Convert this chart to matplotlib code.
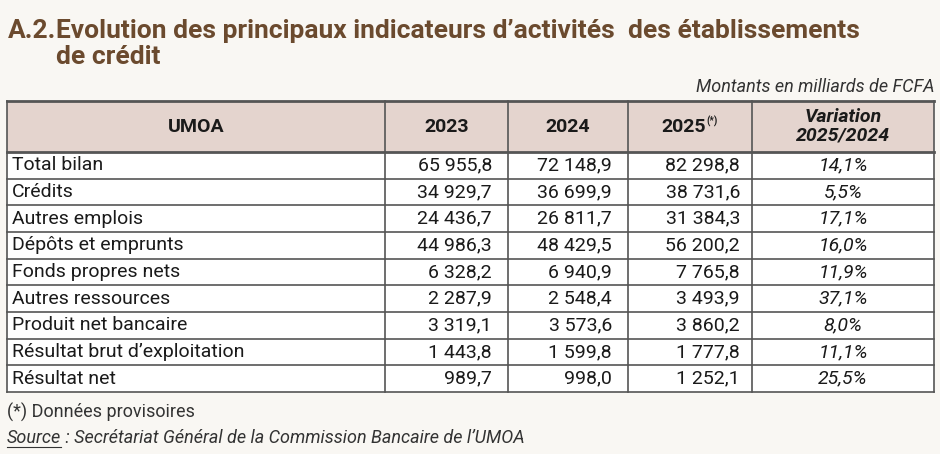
import matplotlib.pyplot as plt

plt.rcParams['font.family'] = ['Roboto', 'DejaVu Sans']

rows = ["Total bilan", "Crédits", "Autres emplois", "Dépôts et emprunts",
        "Fonds propres nets", "Autres ressources", "Produit net bancaire",
        "Résultat brut d\u2019exploitation", "Résultat net"]
v2023 = ["65 955,8", "34 929,7", "24 436,7", "44 986,3", "6 328,2",
         "2 287,9", "3 319,1", "1 443,8", "989,7"]
v2024 = ["72 148,9", "36 699,9", "26 811,7", "48 429,5", "6 940,9",
         "2 548,4", "3 573,6", "1 599,8", "998,0"]
v2025 = ["82 298,8", "38 731,6", "31 384,3", "56 200,2", "7 765,8",
         "3 493,9", "3 860,2", "1 777,8", "1 252,1"]
variation = ["14,1%", "5,5%", "17,1%", "16,0%", "11,9%",
             "37,1%", "8,0%", "11,1%", "25,5%"]

BG = "#f9f7f3"
HEAD = "#e4d4ce"
BROWN = "#6b4a2e"
TXT = "#1a1a1a"

W, H = 940, 454
fig = plt.figure(figsize=(W / 100, H / 100), dpi=100)
fig.patch.set_facecolor(BG)
ax = fig.add_axes([0, 0, 1, 1])
ax.set_xlim(0, W)
ax.set_ylim(H, 0)
ax.axis("off")

# title
TS = 19
ax.text(8, 31, "A.2.", fontsize=TS, fontweight="bold", color=BROWN, va="center")
ax.text(56, 31, "Evolution des principaux indicateurs d\u2019activités  des établissements",
        fontsize=TS, fontweight="bold", color=BROWN, va="center")
ax.text(56, 57, "de crédit", fontsize=TS, fontweight="bold", color=BROWN, va="center")
ax.text(934, 87, "Montants en milliards de FCFA", fontsize=13, style="italic",
        color="#333333", ha="right", va="center")

cols = [7, 385, 508, 628, 752, 934]
top, head_bot = 101, 152
row_h = (392 - head_bot) / len(rows)
bottom = head_bot + row_h * len(rows)

ax.add_patch(plt.Rectangle((cols[0], top), cols[-1] - cols[0], head_bot - top,
                           facecolor=HEAD, edgecolor="none"))
ax.add_patch(plt.Rectangle((cols[0], head_bot), cols[-1] - cols[0], bottom - head_bot,
                           facecolor="white", edgecolor="none"))

lc = "#555555"
for x in cols:
    ax.plot([x, x], [top, bottom], color=lc, lw=1.2)
ax.plot([cols[0], cols[-1]], [top, top], color=lc, lw=2)
ax.plot([cols[0], cols[-1]], [head_bot, head_bot], color=lc, lw=2)
for i in range(1, len(rows) + 1):
    y = head_bot + i * row_h
    ax.plot([cols[0], cols[-1]], [y, y], color=lc, lw=1.2)

HS = 14
BS = 14
hy = (top + head_bot) / 2
ax.text((cols[0] + cols[1]) / 2, hy, "UMOA", fontsize=HS, fontweight="bold",
        ha="center", va="center", color=TXT)
ax.text((cols[1] + cols[2]) / 2, hy, "2023", fontsize=HS, fontweight="bold",
        ha="center", va="center", color=TXT)
ax.text((cols[2] + cols[3]) / 2, hy, "2024", fontsize=HS, fontweight="bold",
        ha="center", va="center", color=TXT)
ax.text((cols[3] + cols[4]) / 2 - 6, hy, "2025", fontsize=HS, fontweight="bold",
        ha="center", va="center", color=TXT)
ax.text((cols[3] + cols[4]) / 2 + 16, hy - 5, "(*)", fontsize=7, fontweight="bold",
        ha="left", va="center", color=TXT)
ax.text((cols[4] + cols[5]) / 2, hy, "Variation\n2025/2024", fontsize=HS,
        fontweight="bold", style="italic", ha="center", va="center",
        color=TXT, linespacing=1.05)

for i, name in enumerate(rows):
    y = head_bot + (i + 0.5) * row_h
    ax.text(cols[0] + 5, y, name, fontsize=BS, va="center", color=TXT)
    ax.text(cols[2] - 16, y, v2023[i], fontsize=BS, va="center", ha="right", color=TXT)
    ax.text(cols[3] - 16, y, v2024[i], fontsize=BS, va="center", ha="right", color=TXT)
    ax.text(cols[4] - 12, y, v2025[i], fontsize=BS, va="center", ha="right", color=TXT)
    ax.text((cols[4] + cols[5]) / 2, y, variation[i], fontsize=BS, style="italic",
            va="center", ha="center", color=TXT)

FS = 13
ax.text(7, 412, "(*) Données provisoires", fontsize=FS, va="center", color="#333333")
src = ax.text(7, 438, "Source", fontsize=FS, va="center", style="italic", color="#333333")
fig.canvas.draw()
bb = src.get_window_extent().transformed(ax.transData.inverted())
x1 = bb.x1
ax.plot([7, x1], [447, 447], color="#333333", lw=0.8)
ax.text(x1, 438, " : Secrétariat Général de la Commission Bancaire de l\u2019UMOA",
        fontsize=FS, va="center", style="italic", color="#333333")

fig.savefig("out.png", dpi=100, facecolor=BG)
